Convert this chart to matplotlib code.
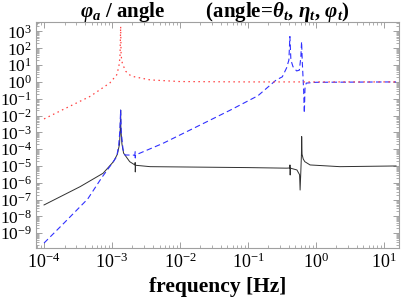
import numpy as np
import matplotlib
matplotlib.use('Agg')
import matplotlib.pyplot as plt
from matplotlib.ticker import LogLocator, LogFormatterMathtext, NullFormatter, FixedLocator

plt.rcParams['font.family'] = 'Liberation Serif'
plt.rcParams['mathtext.fontset'] = 'custom'
plt.rcParams['mathtext.rm'] = 'Liberation Serif'
plt.rcParams['mathtext.it'] = 'Liberation Serif:italic'
plt.rcParams['mathtext.bf'] = 'Liberation Serif:bold'
plt.rcParams['mathtext.bfit'] = 'Liberation Serif:italic:bold'

# red dotted curve
red_f = [1.0e-4, 2.0e-4, 4.8e-4, 9.3e-4, 1.17e-3, 1.26e-3, 1.31e-3, 1.34e-3,
         1.36e-3, 1.40e-3, 1.45e-3, 1.6e-3, 1.82e-3, 2.04e-3, 2.57e-3,
         3.63e-3, 1.0e-2, 0.1, 15.1]
red_v = [6.3e-3, 2.5e-2, 0.14, 0.87, 2.6, 8.0, 30.0, 2000.0,
         40.0, 16.0, 10.0, 4.2, 2.6, 2.1, 1.74,
         1.32, 1.05, 1.0, 1.0]

# blue dashed curve
blue_f = [1.0e-4, 2.0e-4, 4.4e-4, 7.1e-4, 1.0e-3, 1.17e-3, 1.25e-3, 1.30e-3,
          1.34e-3, 1.37e-3, 1.45e-3, 1.55e-3, 2.17e-3, 2.19e-3, 2.20e-3,
          2.22e-3, 5.6e-3, 1.78e-2, 5.5e-2, 0.14, 0.26, 0.32, 0.37, 0.40,
          0.414, 0.428, 0.46, 0.52, 0.57, 0.60, 0.615, 0.63, 0.66, 0.675,
          0.69, 0.72, 1.0, 15.1]
blue_v = [2.6e-10, 4.3e-9, 1.1e-7, 2.1e-6, 1.4e-5, 3.5e-5, 1.5e-4, 1.0e-3,
          2.1e-2, 1.0e-3, 1.0e-4, 4.5e-5, 4.4e-5, 7.0e-5, 3.0e-5,
          4.5e-5, 2.2e-4, 2.2e-3, 2.1e-2, 0.15, 1.3, 2.0, 6.8, 20.0,
          500.0, 20.0, 8.0, 4.5, 5.0, 30.0, 250.0, 15.0, 0.3, 0.014,
          0.4, 0.85, 0.95, 1.0]

# black solid curve
black_f = [1.0e-4, 3.4e-4, 7.4e-4, 1.05e-3, 1.2e-3, 1.29e-3, 1.32e-3, 1.34e-3,
           1.35e-3, 1.40e-3, 1.48e-3, 1.82e-3, 2.17e-3, 2.19e-3, 2.20e-3,
           2.22e-3, 3.63e-3, 0.1, 0.37, 0.412, 0.415, 0.418, 0.421, 0.525,
           0.575, 0.585, 0.60, 0.612, 0.617, 0.625, 0.65, 0.686, 0.82, 2.25, 15.1]
black_v = [4.8e-8, 5.9e-7, 3.7e-6, 1.8e-5, 5.0e-5, 2.0e-4, 1.5e-3, 2.1e-2,
           1.5e-3, 2.0e-4, 5.8e-5, 1.8e-5, 1.15e-5, 1.6e-5, 4.4e-6,
           1.1e-5, 9.1e-6, 8.0e-6, 7.4e-6, 7.6e-6, 1.15e-5, 2.9e-6, 7.4e-6, 5.8e-6,
           3.0e-6, 3.7e-7, 5.0e-6, 5.0e-5, 5.6e-4, 5.0e-5, 2.6e-5, 1.8e-5, 1.15e-5, 9.1e-6, 1.0e-5]

x_ticks = [1e-4, 1e-3, 1e-2, 1e-1, 1e0, 1e1]
y_ticks = [10.0**k for k in range(-9, 4)]

fig = plt.figure(figsize=(4.07, 3.0), dpi=100)
ax = fig.add_axes([0.0885, 0.175, 0.8915, 0.752])

ax.plot(black_f, black_v, color='#303030', lw=0.7)
ax.plot(blue_f, blue_v, color='#3030ff', lw=0.8, dashes=(5, 3))
ax.plot(red_f, red_v, color='#ff4040', lw=0.9, dashes=(1.2, 2.8))

ax.set_xscale('log')
ax.set_yscale('log')
ax.set_xlim(10**-4.118, 10**1.22)
ax.set_ylim(10**-9.85, 10**3.57)

ax.xaxis.set_major_locator(FixedLocator(x_ticks))
ax.yaxis.set_major_locator(FixedLocator(y_ticks))
ax.xaxis.set_minor_locator(LogLocator(base=10, subs=np.arange(2, 10), numticks=20))
ax.yaxis.set_minor_locator(LogLocator(base=10, subs=np.arange(2, 10), numticks=30))
ax.xaxis.set_minor_formatter(NullFormatter())
ax.yaxis.set_minor_formatter(NullFormatter())
ax.xaxis.set_major_formatter(LogFormatterMathtext())
ax.yaxis.set_major_formatter(LogFormatterMathtext())

for s in ax.spines.values():
    s.set_color('#a0a0a0')
    s.set_linewidth(0.8)
ax.tick_params(which='both', direction='in', top=True, right=True,
               color='#a0a0a0')
ax.tick_params(axis='x', labelsize=13)
ax.tick_params(axis='y', labelsize=12.5)
ax.tick_params(which='major', length=4, width=0.7)
ax.tick_params(axis='y', which='major', pad=3)
ax.tick_params(axis='x', which='major', pad=4)
ax.tick_params(which='minor', length=2, width=0.6)

fig.text(0.528, 1 - 12.5 / 300,
         r'$\mathbfit{\varphi_a}$ / angle        (angle=$\mathbfit{\theta_t}$, '
         r'$\mathbfit{\eta_t}$, $\mathbfit{\varphi_t}$)',
         fontsize=15, fontweight='bold', ha='center', va='center')
ax.set_xlabel('frequency [Hz]', fontsize=15.5, fontweight='bold', labelpad=3)

fig.savefig('out.png', dpi=100)
